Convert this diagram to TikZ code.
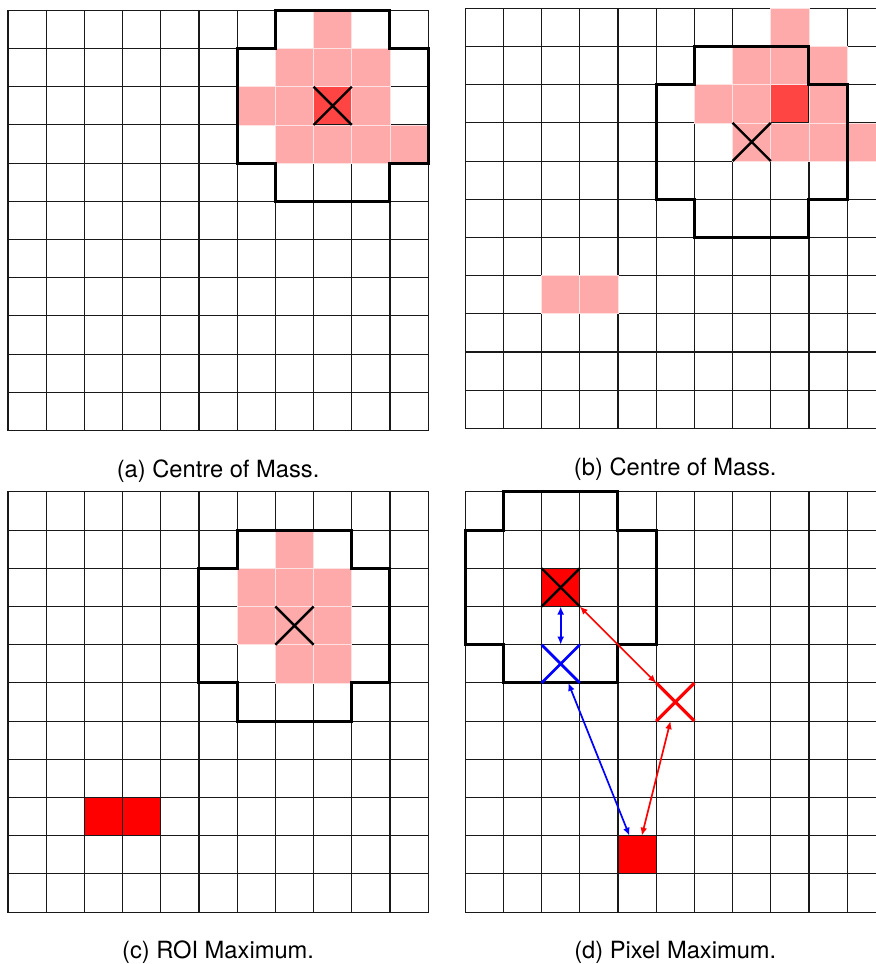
\documentclass[tikz,border=0pt]{standalone}
\usepackage{fontspec}
\setmainfont{TeX Gyre Heros}
\usetikzlibrary{shapes.misc,arrows.meta}
\definecolor{roipink}{RGB}{255,170,170}
\definecolor{peakred}{RGB}{255,68,68}
\def\spread{8/0, 7/1, 8/1, 9/1, 6/2, 7/2, 9/2, 7/3, 8/3, 9/3, 10/3}
\def\cellsize{19.1pt}
\tikzset{
  gridline/.style={black!90, line width=0.55pt, line cap=rect},
  roiline/.style={black, line width=1.5pt, line join=miter},
  pinkcell/.style={rectangle, fill=roipink, draw=roipink!35!white, line width=0.35pt, inner sep=0pt, outer sep=0pt, minimum size=\cellsize},
  peakcell/.style={rectangle, fill=peakred, inner sep=0pt, outer sep=0pt, minimum size=\cellsize},
  maxcell/.style={rectangle, fill=red, inner sep=0pt, outer sep=0pt, minimum size=\cellsize},
  centremark/.style={cross out, draw=black, line width=1.2pt, inner sep=0pt, outer sep=0pt, minimum size=\cellsize},
  bluemark/.style={cross out, draw=blue, line width=1.35pt, inner sep=0pt, outer sep=0pt, minimum size=\cellsize},
  redmark/.style={cross out, draw=red, line width=1.6pt, inner sep=0pt, outer sep=0pt, minimum size=\cellsize},
  distarrow/.style={{Latex[length=4pt,width=3.4pt]}-{Latex[length=4pt,width=3.4pt]}, line width=0.85pt},
  legenda/.style={anchor=base, font=\fontsize{11.85pt}{14pt}\selectfont, inner sep=0pt},
}
\newcommand{\pixelgrid}{%
  \foreach \k in {0,...,11} {
    \draw[gridline] (\k,0) -- (\k,11);
    \draw[gridline] (0,\k) -- (11,\k);
  }%
}
\newcommand{\roioutline}[2]{%
  \draw[roiline] (#1-1,#2-2) -- ++(3,0) -- ++(0,1) -- ++(1,0) -- ++(0,3) -- ++(-1,0) -- ++(0,1)
    -- ++(-3,0) -- ++(0,-1) -- ++(-1,0) -- ++(0,-3) -- ++(1,0) -- cycle;
}

\begin{document}
\begin{tikzpicture}[x=\cellsize, y=-\cellsize]
  \clip (0,0) rectangle (22.93,25.24);

  % ---------------- (a) centre of mass ----------------
  \begin{scope}[shift={(0.21,0.27)}]
    \node[peakcell] (apeak) at (8.5,2.5) {};
    \pixelgrid
    \foreach \c/\r in \spread { \node[pinkcell] (a-\c-\r) at (\c+0.5,\r+0.5) {}; }
    \roioutline{8}{2}
    \node[centremark] (acom) at (apeak) {};
    \node[legenda] (capa) at (5.5,12.22) {(a) Centre of Mass.};
  \end{scope}

  % ---------------- (b) centre of mass, with a stray pair ----------------
  \begin{scope}[shift={(12.18,0.217)}]
    \node[peakcell] (bpeak) at (8.5,2.5) {};
    \pixelgrid
    \foreach \c/\r in \spread { \node[pinkcell] (b-\c-\r) at (\c+0.5,\r+0.5) {}; }
    \foreach \c/\r in {2/7, 3/7} { \node[pinkcell] (b-\c-\r) at (\c+0.5,\r+0.5) {}; }
    \roioutline{7}{3}
    \node[centremark] (bcom) at (7.5,3.5) {};
    \node[legenda] (capb) at (5.5,12.22) {(b) Centre of Mass.};
  \end{scope}

  % ---------------- (c) ROI maximum ----------------
  \begin{scope}[shift={(0.21,12.88)}]
    \foreach \c/\r in {2/8, 3/8} { \node[maxcell] (c-\c-\r) at (\c+0.5,\r+0.5) {}; }
    \pixelgrid
    \foreach \c/\r in {7/1, 6/2, 7/2, 8/2, 6/3, 7/3, 8/3, 7/4, 8/4} { \node[pinkcell] (c-\c-\r) at (\c+0.5,\r+0.5) {}; }
    \roioutline{7}{3}
    \node[centremark] (ccom) at (7.5,3.5) {};
    \node[legenda] (capc) at (5.5,12.22) {(c) ROI Maximum.};
  \end{scope}

  % ---------------- (d) pixel maximum ----------------
  \begin{scope}[shift={(12.18,12.88)}]
    \node[maxcell] (droi) at (2.5,2.5) {};
    \node[maxcell] (dpix) at (4.5,9.5) {};
    \pixelgrid
    \roioutline{2}{2}
    \node[centremark] (dmark) at (droi) {};
    \node[bluemark] (dcom) at (2.5,4.5) {};
    \node[redmark] (dpeak) at (5.5,5.5) {};
    % distances to the maxima
    \draw[distarrow, blue] (droi) -- (dcom);
    \draw[distarrow, red] (droi) -- (dpeak);
    \draw[distarrow, blue] (dcom) -- (dpix);
    \draw[distarrow, red] (dpeak) -- (dpix);
    \node[legenda] (capd) at (5.5,12.22) {(d) Pixel Maximum.};
  \end{scope}
\end{tikzpicture}
\end{document}
